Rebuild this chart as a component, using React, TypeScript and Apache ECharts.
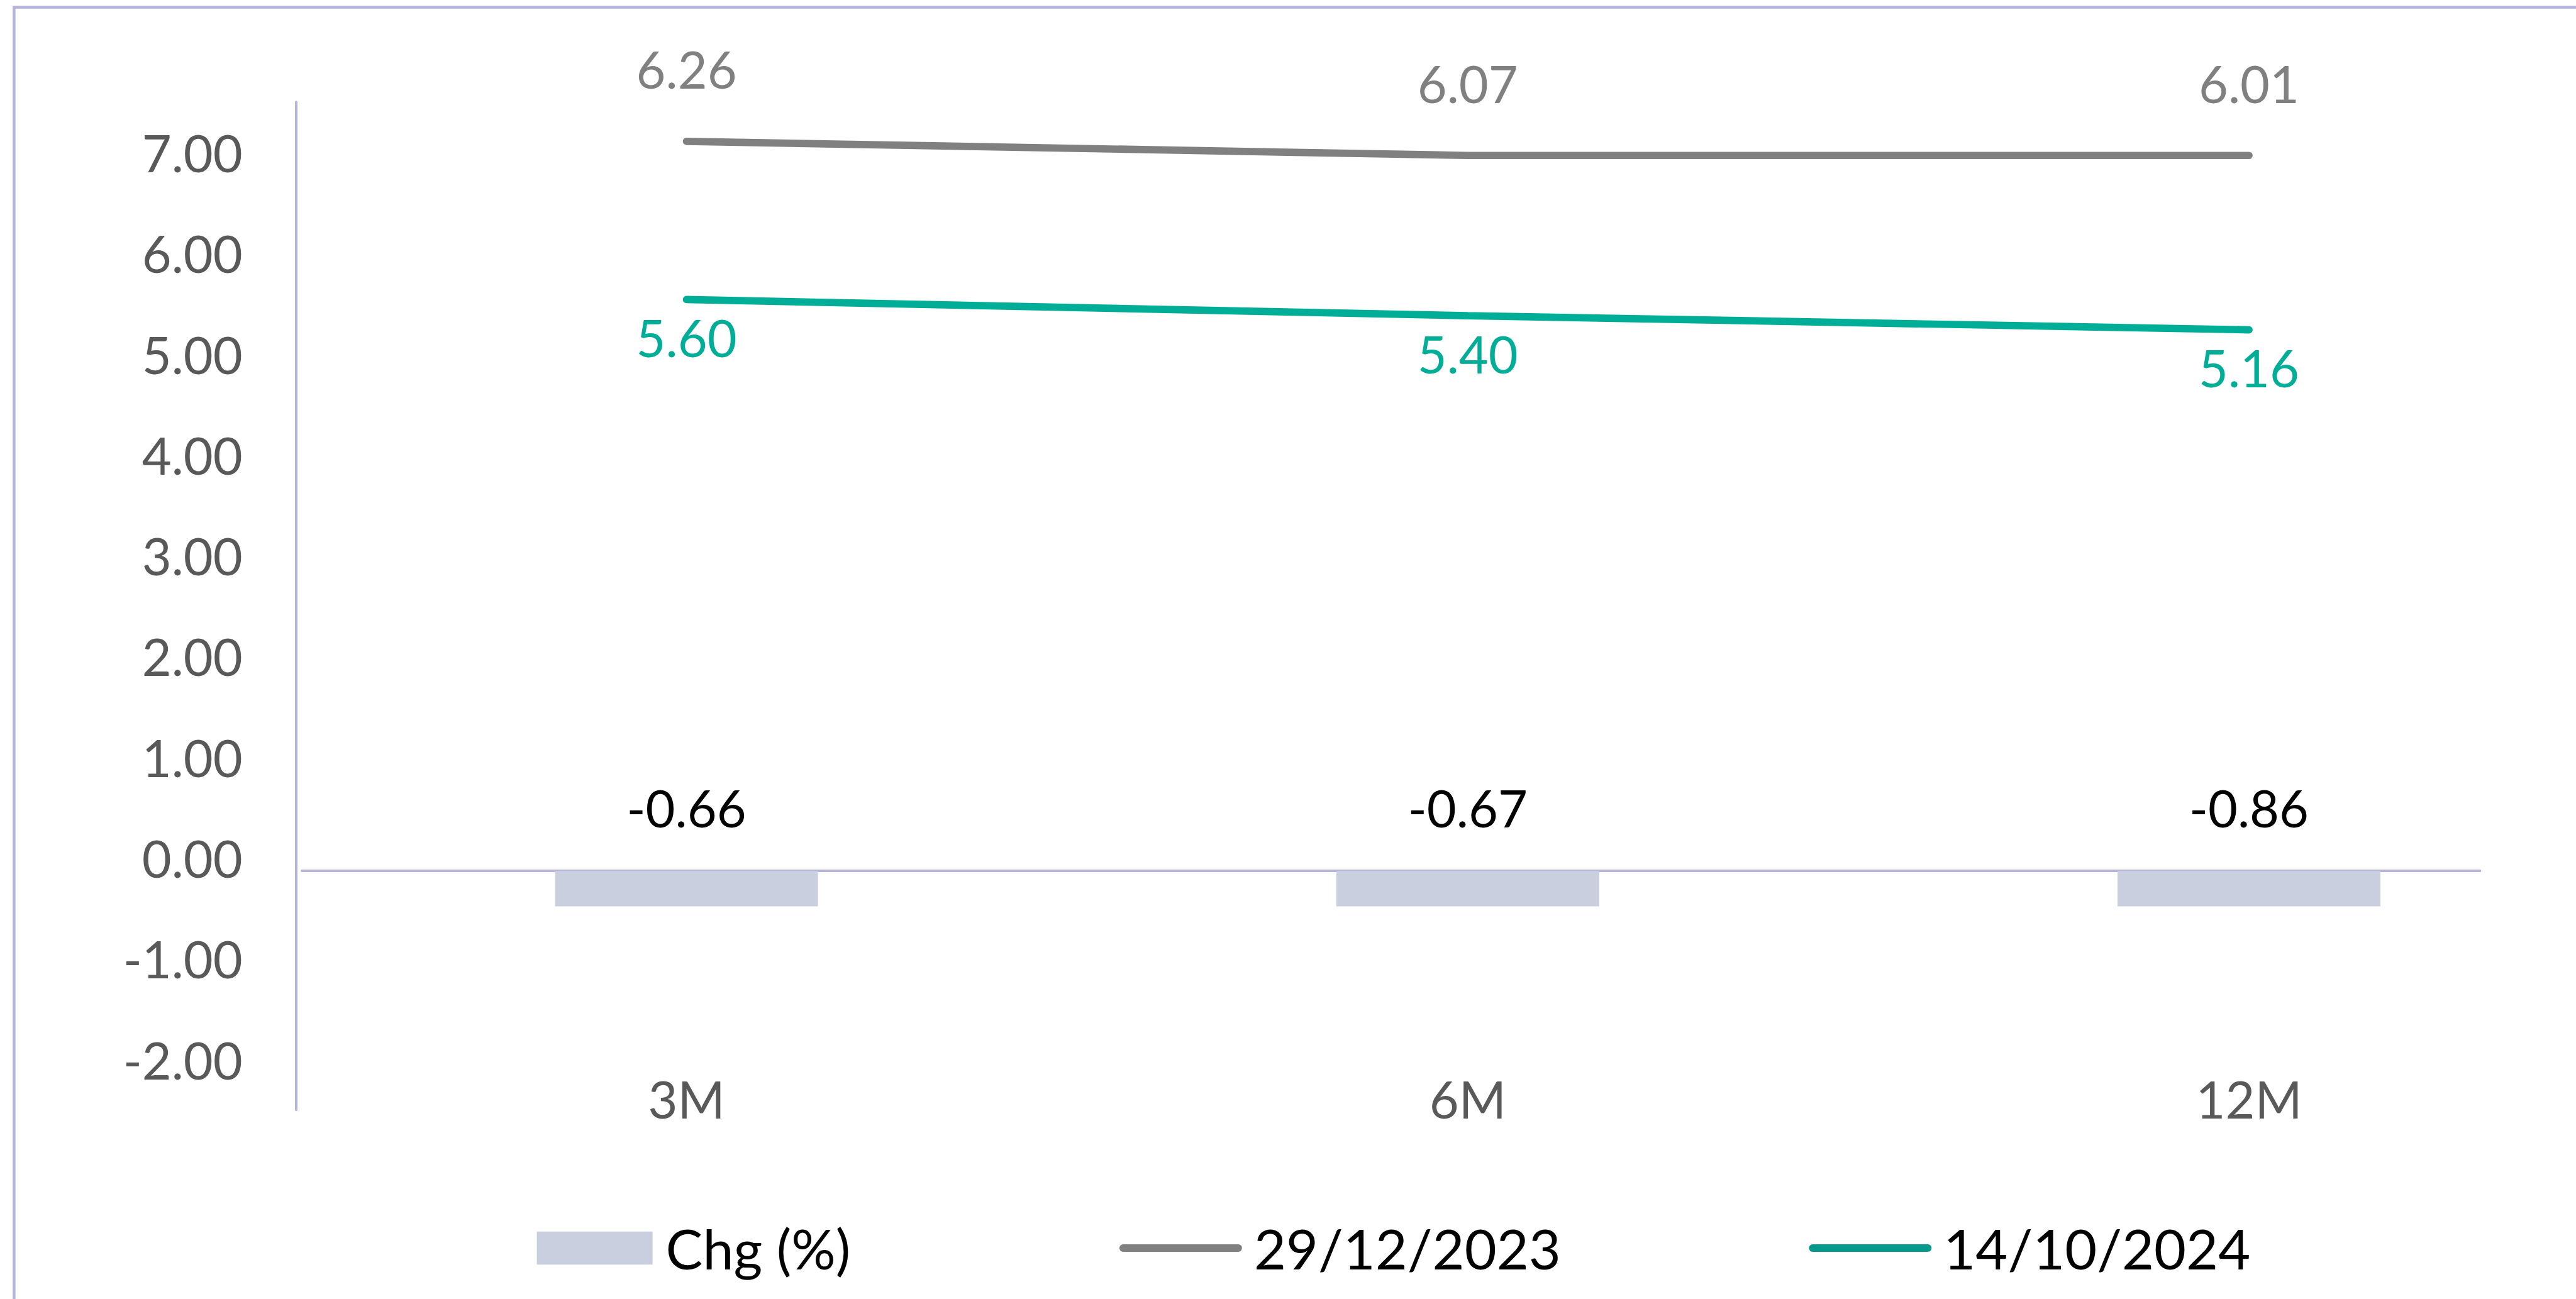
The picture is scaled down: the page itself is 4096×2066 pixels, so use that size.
import React, { useEffect, useRef } from "react";
import * as echarts from "echarts";

// ---- data ----
const categories = ["3M", "6M", "12M"];
// printed values of the change bars
const chgValues = [-0.66, -0.67, -0.86];
// bar lengths as they are drawn in the reference (all the same length)
const chgBarsDrawn = [-0.35, -0.35, -0.35];
// printed values of the two curves
const dec2023Values = [6.26, 6.07, 6.01];
const oct2024Values = [5.6, 5.4, 5.16];
// positions of the curves as drawn against the left axis
const dec2023Drawn = [7.11, 6.97, 6.97];
const oct2024Drawn = [5.54, 5.38, 5.24];
// left axis extent and label step
const yMin = -2.5;
const yMax = 7.5;
const yStep = 0.5;
// the horizontal axis crosses the left axis slightly below 0
const xAxisCross = -0.13;

const seriesNames = ["Chg (%)", "29/12/2023", "14/10/2024"];

const FONT = 'Lato, "Noto Sans", sans-serif';
const LAV = "#B4B4DC";
const GRAY = "#808080";
const TEAL = "#00AE97";
const TEAL_LEGEND = "#00998C";
const BAR = "#CACFE0";

const linePath = "path://M6,0L190,0A6,6,0,0,1,190,12L6,12A6,6,0,0,1,6,0Z";

// layout (output pixels)
const AXIS_X = 470.4; // left axis line
const FIRST_CAT_X = 1091.6; // centre of first category
const LAST_CAT_X = 3576.0; // centre of last category

export default function App() {
  const ref = useRef<HTMLDivElement>(null);

  useEffect(() => {
    if (!ref.current) return;
    const chart = echarts.init(ref.current, null, { renderer: "svg" });

    const option: any = {
      animation: false,
      backgroundColor: "#ffffff",
      textStyle: { fontFamily: FONT },
      graphic: [
        {
          type: "rect",
          silent: true,
          shape: { x: 22.4, y: 11.4, width: 6000, height: 6000 },
          style: { fill: "none", stroke: LAV, lineWidth: 4.5 },
        },
      ],
      grid: [
        {
          left: FIRST_CAT_X,
          top: 162.3,
          width: LAST_CAT_X - FIRST_CAT_X,
          height: 1602.9,
          containLabel: false,
        },
        { left: 480, top: 1300, width: 3463.4, height: 85.1, containLabel: false },
      ],
      xAxis: [
        {
          type: "category",
          gridIndex: 0,
          data: categories,
          boundaryGap: false,
          offset: -58,
          axisLine: { show: false, onZero: false },
          axisTick: { show: false },
          axisLabel: { fontSize: 81, color: "#595959", margin: 0, fontFamily: FONT },
        },
        {
          type: "category",
          gridIndex: 1,
          data: categories,
          position: "bottom",
          axisLine: { show: true, onZero: false, lineStyle: { color: LAV, width: 4 } },
          axisTick: { show: false },
          axisLabel: { show: false },
        },
      ],
      yAxis: [
        {
          type: "value",
          gridIndex: 0,
          min: yMin,
          max: yMax,
          interval: yStep,
          offset: FIRST_CAT_X - AXIS_X,
          axisLine: { show: true, onZero: false, lineStyle: { color: LAV, width: 4 } },
          axisTick: { show: false },
          splitLine: { show: false },
          axisLabel: {
            fontSize: 81,
            color: "#595959",
            margin: 84.6,
            fontFamily: FONT,
            formatter: (v: number) =>
              Math.abs(v - Math.round(v)) < 1e-6 ? Math.round(v).toFixed(2) : "",
          },
        },
        {
          type: "value",
          gridIndex: 0,
          show: false,
          min: yMin - xAxisCross,
          max: yMax - xAxisCross,
          splitLine: { show: false },
        },
        { type: "value", gridIndex: 1, show: false, splitLine: { show: false } },
      ],
      legend: [
        {
          left: 848.6,
          top: 1936,
          selectedMode: false,
          itemWidth: 184,
          itemHeight: 52.5,
          textStyle: { fontSize: 88, color: "#000", fontFamily: FONT, padding: [0, 0, 0, 16] },
          data: [{ name: seriesNames[0], icon: "rect", itemStyle: { color: BAR } }],
        },
        {
          left: 1774.9,
          top: 1936,
          selectedMode: false,
          itemWidth: 195,
          itemHeight: 12.6,
          textStyle: { fontSize: 88, color: "#000", fontFamily: FONT, padding: [0, 0, 0, 14] },
          data: [{ name: seriesNames[1], icon: linePath, itemStyle: { color: GRAY } }],
        },
        {
          left: 2871.3,
          top: 1936,
          selectedMode: false,
          itemWidth: 195,
          itemHeight: 12.6,
          textStyle: { fontSize: 88, color: "#000", fontFamily: FONT, padding: [0, 0, 0, 14] },
          data: [{ name: seriesNames[2], icon: linePath, itemStyle: { color: TEAL_LEGEND } }],
        },
      ],
      series: [
        {
          name: seriesNames[0],
          type: "bar",
          xAxisIndex: 0,
          yAxisIndex: 1,
          data: chgBarsDrawn,
          barWidth: 418,
          clip: false,
          itemStyle: { color: BAR },
          label: {
            show: true,
            position: "top",
            distance: 60.5,
            color: "#000",
            fontSize: 81,
            fontFamily: FONT,
            formatter: (p: any) => chgValues[p.dataIndex].toFixed(2),
          },
          z: 2,
        },
        {
          name: seriesNames[1],
          type: "line",
          xAxisIndex: 0,
          yAxisIndex: 0,
          data: dec2023Drawn,
          symbol: "circle",
          symbolSize: 1,
          clip: false,
          itemStyle: { color: GRAY },
          lineStyle: { color: GRAY, width: 11.7, cap: "round" },
          label: {
            show: true,
            position: "top",
            distance: 74,
            color: GRAY,
            fontSize: 81,
            fontFamily: FONT,
            formatter: (p: any) => dec2023Values[p.dataIndex].toFixed(2),
          },
          z: 3,
        },
        {
          name: seriesNames[2],
          type: "line",
          xAxisIndex: 0,
          yAxisIndex: 0,
          data: oct2024Drawn,
          symbol: "circle",
          symbolSize: 1,
          clip: false,
          itemStyle: { color: TEAL },
          lineStyle: { color: TEAL, width: 11.7, cap: "round" },
          label: {
            show: true,
            position: "bottom",
            distance: 19,
            color: TEAL,
            fontSize: 81,
            fontFamily: FONT,
            formatter: (p: any) => oct2024Values[p.dataIndex].toFixed(2),
          },
          z: 3,
        },
      ],
    };

    chart.setOption(option);
    return () => chart.dispose();
  }, []);

  return (
    <div
      ref={ref}
      style={{ position: "fixed", left: 0, top: 0, width: 4096, height: 2066, background: "#fff" }}
    />
  );
}
